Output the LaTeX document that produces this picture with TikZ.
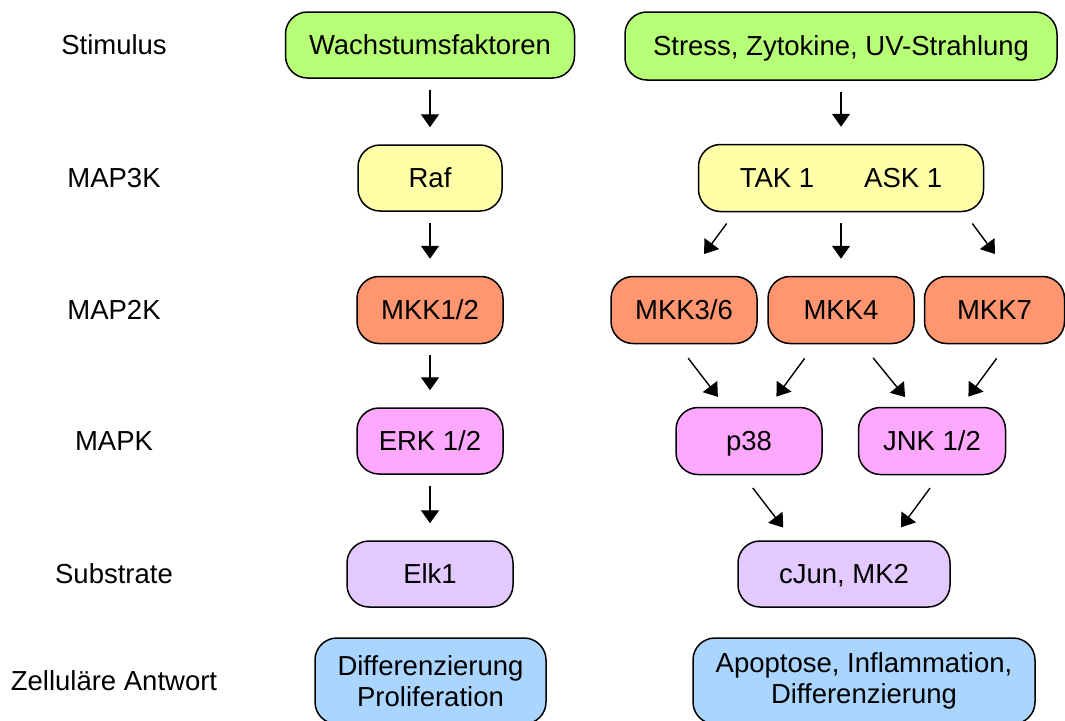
\documentclass[tikz,border=0pt]{standalone}
\usepackage{fontspec}
\setmainfont{Liberation Sans}
\usetikzlibrary{arrows.meta}

\definecolor{gruen}{HTML}{B8FF78}
\definecolor{gelb}{HTML}{FFFFA8}
\definecolor{lachs}{HTML}{FF9670}
\definecolor{rosa}{HTML}{FFA8FF}
\definecolor{lila}{HTML}{E2C9FF}
\definecolor{hellblau}{HTML}{A9D5FF}

\begin{document}
\begin{tikzpicture}[x=1pt,y=-1pt,
	box/.style={draw=black,line width=1.5pt,rounded corners=22pt,align=center,inner sep=0pt,font=\fontsize{27.5}{31}\selectfont},
	einzeilig/.style={box,text height=19.7pt,text depth=0pt},
	lbl/.style={font=\fontsize{27.5}{31}\selectfont},
	pfeil/.style={line width=1.4pt,-{Triangle[length=13pt,width=18pt]},shorten <=11pt,shorten >=17pt}]
			% column positions and row heights
			\pgfmathsetmacro{\xl}{430}
			\pgfmathsetmacro{\xr}{841}
			\pgfmathsetmacro{\xlab}{114}
			
			\clip (0,0) rectangle (1065,720);
			
			% row labels
			\node[lbl] (lstim) at (\xlab,45) {Stimulus};
			\node[lbl] (lmap3k) at (\xlab,178) {MAP3K};
			\node[lbl] (lmap2k) at (\xlab,310) {MAP2K};
			\node[lbl] (lmapk) at (\xlab,441) {MAPK};
			\node[lbl] (lsub) at (\xlab,574) {Substrate};
			\node[lbl] (lantw) at (\xlab,681) {Zelluläre Antwort};
			
			% left pathway
			\node[einzeilig,fill=gruen,minimum width=289pt,minimum height=66pt] (wachs) at (\xl,45) {Wachstumsfaktoren};
			\node[einzeilig,fill=gelb,minimum width=144pt,minimum height=66pt] (raf) at (\xl,178) {Raf};
			\node[einzeilig,fill=lachs,minimum width=146pt,minimum height=67pt] (mkk12) at (\xl,310) {MKK1/2};
			\node[einzeilig,fill=rosa,minimum width=146pt,minimum height=66pt] (erk) at (\xl,441) {ERK 1/2};
			\node[einzeilig,fill=lila,minimum width=166pt,minimum height=66pt] (elk) at (\xl,574) {Elk1};
			\node[box,fill=hellblau,minimum width=231pt,minimum height=86pt] (diff) at (430.5,681) {Differenzierung\\Proliferation};
			
			% right pathway
			\node[einzeilig,fill=gruen,minimum width=432pt,minimum height=68pt] (stress) at (\xr,46) {Stress, Zytokine, UV-Strahlung};
			\node[einzeilig,fill=gelb,minimum width=285pt,minimum height=67pt] (tak) at (\xr,178) {TAK 1\hspace{50pt}ASK 1};
			\node[einzeilig,fill=lachs,minimum width=146pt,minimum height=67pt] (mkk36) at (684,310) {MKK3/6};
			\node[einzeilig,fill=lachs,minimum width=146pt,minimum height=67pt] (mkk4) at (\xr,310) {MKK4};
			\node[einzeilig,fill=lachs,minimum width=140pt,minimum height=67pt] (mkk7) at (994.5,310) {MKK7};
			\node[einzeilig,fill=rosa,minimum width=146pt,minimum height=67pt] (p38) at (749,441) {p38};
			\node[einzeilig,fill=rosa,minimum width=147pt,minimum height=67pt] (jnk) at (932,441) {JNK 1/2};
			\node[einzeilig,fill=lila,minimum width=212pt,minimum height=66pt] (cjun) at (844,574) {cJun, MK2};
			\node[box,fill=hellblau,minimum width=342pt,minimum height=86pt] (apop) at (864,681) {Apoptose, Inflammation,\\Differenzierung};
			
			% arrows left
			\draw[pfeil] (wachs) -- (raf);
			\draw[pfeil] (raf) -- (mkk12);
			\draw[pfeil] (mkk12) -- (erk);
			\draw[pfeil] (erk) -- (elk);
			
			% arrows right
			\draw[pfeil] (stress) -- (tak);
			\draw[pfeil] (tak) -- (mkk4);
			\draw[pfeil,shorten <=14pt,shorten >=27pt] ([xshift=-106pt]tak.south) -- ([xshift=4pt]mkk36.north);
			\draw[pfeil,shorten <=14pt,shorten >=27pt] ([xshift=123pt]tak.south) -- ([xshift=16.5pt]mkk7.north);
			\draw[pfeil,shorten <=17.5pt,shorten >=12.5pt] ([xshift=-6.5pt]mkk36.south) -- ([xshift=-23.5pt]p38.north);
			\draw[pfeil,shorten <=17.5pt,shorten >=12.5pt] ([xshift=-26pt]mkk4.south) -- ([xshift=20pt]p38.north);
			\draw[pfeil,shorten <=17.5pt,shorten >=12.5pt] ([xshift=21pt]mkk4.south) -- ([xshift=-19pt]jnk.north);
			\draw[pfeil,shorten <=17.5pt,shorten >=12.5pt] ([xshift=12.5pt]mkk7.south) -- ([xshift=29pt]jnk.north);
			\draw[pfeil,shorten <=16pt,shorten >=16pt] ([xshift=-6pt]p38.south) -- ([xshift=-51pt]cjun.north);
			\draw[pfeil,shorten <=16pt,shorten >=16pt] ([xshift=7.5pt]jnk.south) -- ([xshift=47.5pt]cjun.north);
		\end{tikzpicture}
\end{document}
